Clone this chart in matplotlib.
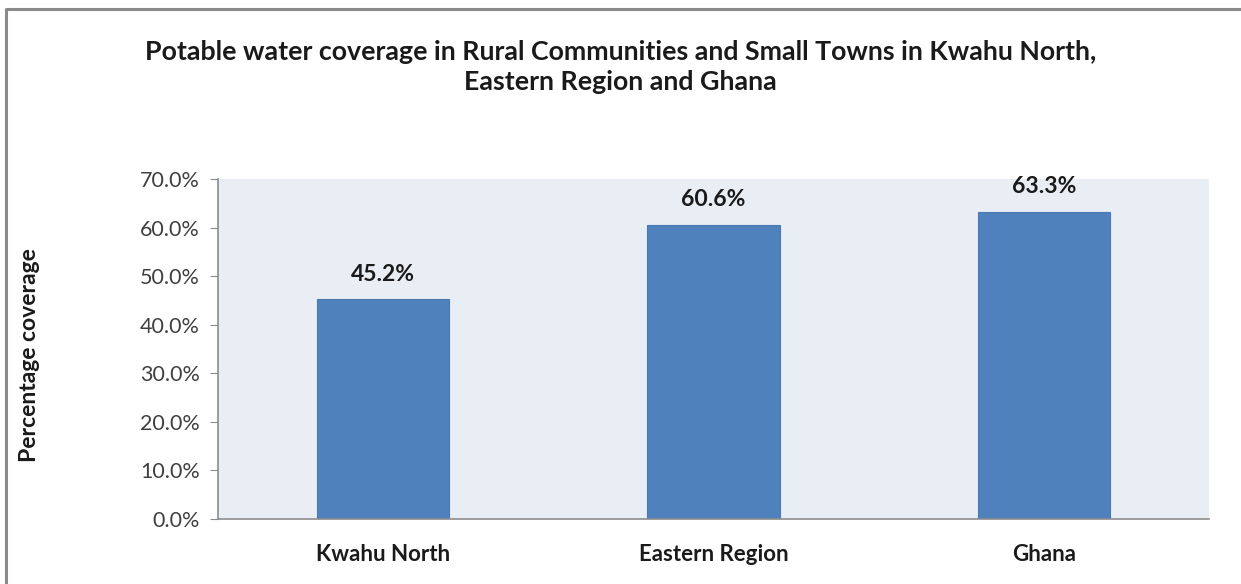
import matplotlib.pyplot as plt
from matplotlib.lines import Line2D
from matplotlib.ticker import FuncFormatter

plt.rcParams['font.family'] = ['Lato', 'DejaVu Sans']

# data
regions  = ['Kwahu North', 'Eastern Region', 'Ghana']
coverage = [45.2, 60.6, 63.3]
yticks   = [0, 10, 20, 30, 40, 50, 60, 70]

W, H = 1241, 584
fig = plt.figure(figsize=(W / 100, H / 100), dpi=100)
ax = fig.add_axes([218 / W, 1 - 519 / H, 991 / W, 340 / H])

# outer chart border (only top and left edges fall inside the image)
fig.lines.append(Line2D([6 / W, 6 / W, 1.0], [0.0, 1 - 8.5 / H, 1 - 8.5 / H],
                        transform=fig.transFigure, color='#8a8a8a', linewidth=2.2))

ax.set_facecolor('#e9edf4')
x = range(len(regions))
ax.bar(x, coverage, width=0.4, color='#4f81bd', edgecolor='#4a7ab4', linewidth=0.8)

for xi, v in zip(x, coverage):
    ax.text(xi, v + 5.1, f'{v:.1f}%', ha='center', va='center',
            fontsize=16.5, fontweight='bold', color='#1a1a1a')

ax.set_xlim(-0.5, 2.5)
ax.set_ylim(0, 70)
ax.set_yticks(yticks)
ax.yaxis.set_major_formatter(FuncFormatter(lambda v, p: f'{v:.1f}%'))
ax.set_xticks(list(x))
ax.set_xticklabels(regions, fontsize=16, fontweight='bold', color='#1a1a1a')
ax.tick_params(axis='x', length=0, pad=18)
ax.tick_params(axis='y', length=6, color='#8c8c8c', labelsize=15.5, labelcolor='#404040', pad=7)

for s in ['top', 'right']:
    ax.spines[s].set_visible(False)
for s in ['left', 'bottom']:
    ax.spines[s].set_color('#8c8c8c')
    ax.spines[s].set_linewidth(1.2)

fig.text(30 / W, 1 - 355 / H, 'Percentage coverage', rotation=90, ha='center', va='center',
         fontsize=16.5, fontweight='bold', color='#1a1a1a')

fig.text(0.5, 1 - 67.5 / H, 'Potable water coverage in Rural Communities and Small Towns in Kwahu North,\nEastern Region and Ghana',
         ha='center', va='center', fontsize=19.3, fontweight='bold', color='#1a1a1a', linespacing=1.3)

fig.savefig('out.png', dpi=100)
